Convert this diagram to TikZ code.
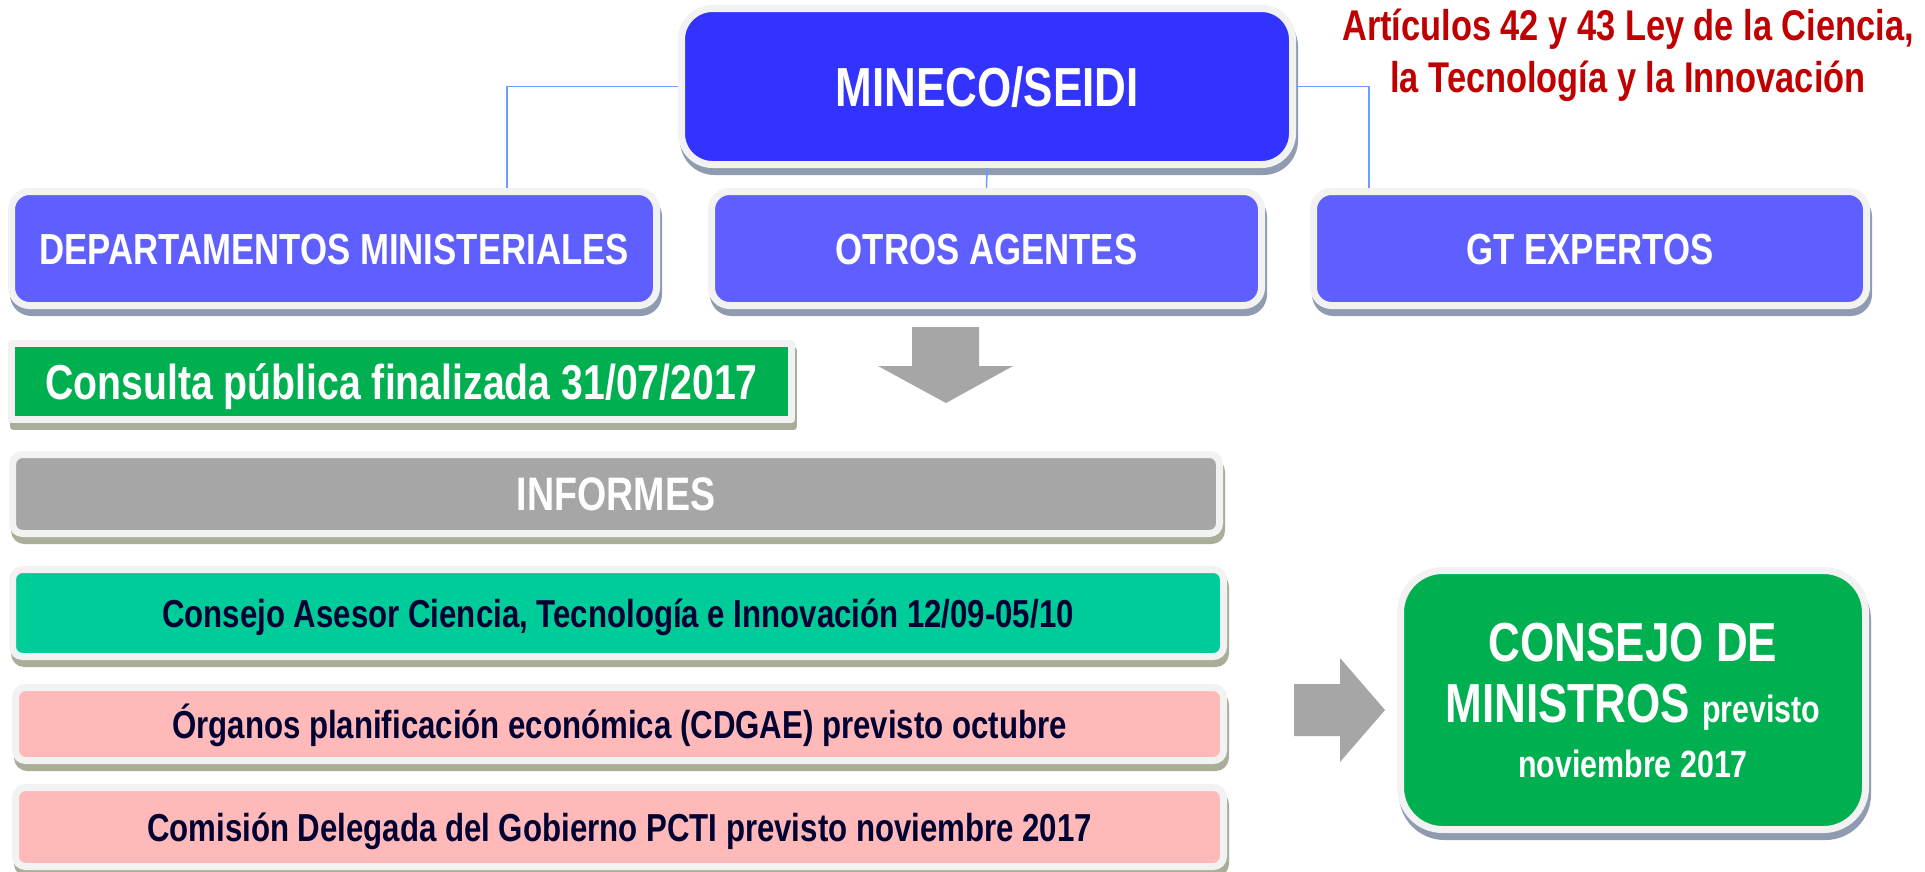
\documentclass[tikz,border=0pt]{standalone}
\usepackage{fontspec}
\setmainfont{Liberation Sans}[FakeStretch=0.8]
\usepackage{tikz}
\usetikzlibrary{shadows,calc}

\definecolor{minecoblue}{HTML}{3333FF}
\definecolor{agentblue}{HTML}{5F5FFF}
\definecolor{framegray}{HTML}{F2F2F2}
\definecolor{shadeblue}{HTML}{8F9BB0}
\definecolor{shadeolive}{HTML}{A8AE98}
\definecolor{consultagreen}{HTML}{00B050}
\definecolor{informegray}{HTML}{A6A6A6}
\definecolor{asesorteal}{HTML}{00CC99}
\definecolor{organopink}{HTML}{FFB9B9}
\definecolor{navytext}{HTML}{000033}
\definecolor{leyred}{HTML}{C00000}
\definecolor{linkblue}{HTML}{6C9CFF}

\tikzset{
  box/.style={draw=framegray, line width=7pt, inner sep=0pt, align=center, text depth=0pt},
  topshadow/.style={drop shadow={shadow xshift=2pt, shadow yshift=-7pt, fill=shadeblue, draw=shadeblue, line width=7pt, opacity=1}},
  lowshadow/.style={drop shadow={shadow xshift=2pt, shadow yshift=-7pt, fill=shadeolive, draw=shadeolive, line width=7pt, opacity=1}},
  agent/.style={box, topshadow, fill=agentblue, rounded corners=18pt, text=white,
    font=\fontsize{43.5}{50}\selectfont\bfseries, text height=31pt, minimum height=114pt},
  informe/.style={box, lowshadow, rounded corners=10pt, minimum width=1208pt, text=navytext,
    font=\fontsize{39}{46}\selectfont\bfseries, text height=28pt},
  link/.style={draw=linkblue, line width=1.5pt},
  blockarrow/.style={fill=informegray}
}

\begin{document}
\begin{tikzpicture}[x=1pt,y=-1pt,line join=round]
\useasboundingbox[fill=white] (0,0) rectangle (1925,871);

% organismo promotor
\node[box, topshadow, fill=minecoblue, rounded corners=31pt, text=white,
  font=\fontsize{55}{60}\selectfont\bfseries, text height=39pt,
  minimum width=611pt, minimum height=156pt] (mineco) at (987,86.5) {MINECO/SEIDI};
\node[text=leyred, align=center, font=\fontsize{43}{52}\selectfont\bfseries] (ley) at (1628,55)
  {Artículos 42 y 43 Ley de la Ciencia,\\la Tecnología y la Innovación};

% participantes
\node[agent, minimum width=645pt] (dept) at (334,248.5) {DEPARTAMENTOS MINISTERIALES};
\node[agent, minimum width=550pt] (otros) at (986.5,248.5) {OTROS AGENTES};
\node[agent, minimum width=553pt] (gt) at (1590,248.5) {GT EXPERTOS};

\draw[link] (mineco.west) -| ([xshift=173pt]dept.north);
\draw[link] (mineco.south) -- (otros.north);
\draw[link] (mineco.east) -| ([xshift=-221pt]gt.north);

\fill[blockarrow] (912,327) -- (979,327) -- (979,366) -- (1013,366) -- (946,403)
  -- (878,366) -- (912,366) -- cycle;

% consulta e informes
\node[box, lowshadow, fill=consultagreen, text=white, font=\fontsize{49}{56}\selectfont\bfseries,
  text height=35pt, minimum width=780pt, minimum height=76pt] (consulta) at (401.5,381.5)
  {Consulta pública finalizada 31/07/2017};
\node[informe, fill=informegray, text=white, font=\fontsize{47}{54}\selectfont\bfseries,
  text height=33pt, minimum width=1207pt, minimum height=79pt] (informes) at (616,494) {INFORMES};
\node[informe, fill=asesorteal, minimum width=1211pt, minimum height=87pt] (asesor) at (618,613)
  {Consejo Asesor Ciencia, Tecnología e Innovación 12/09-05/10};
\node[informe, fill=organopink, minimum height=73pt] (organos) at (619.5,724)
  {Órganos planificación económica (CDGAE) previsto octubre};
\node[informe, fill=organopink, minimum height=79pt] (comision) at (619.5,827)
  {Comisión Delegada del Gobierno PCTI previsto noviembre 2017};

\fill[blockarrow] (1294,684) -- (1340,684) -- (1340,658) -- (1385,710) -- (1340,762)
  -- (1340,736) -- (1294,736) -- cycle;

% aprobacion
\node[box, topshadow, fill=consultagreen, rounded corners=42pt, text=white,
  font=\fontsize{55}{67}\selectfont\bfseries, minimum width=465pt, minimum height=259pt]
  (consejo) at (1633,700)
  {\raisebox{-6pt}{CONSEJO DE}\\MINISTROS {\fontsize{38}{44}\selectfont previsto}\\[-12pt]{\fontsize{38}{44}\selectfont noviembre 2017}};
\end{tikzpicture}
\end{document}
